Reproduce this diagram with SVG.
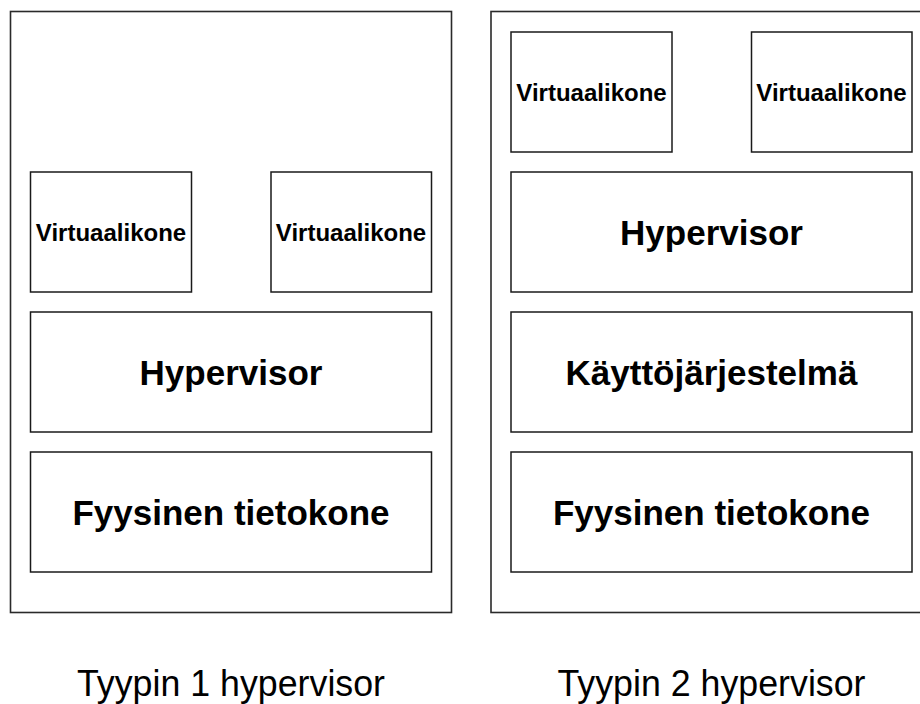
<svg xmlns="http://www.w3.org/2000/svg" width="920" height="704" viewBox="0 0 920 704">
<style>
.outer{fill:#fff;stroke:#2a2a2a;stroke-width:1.6}
.box{fill:#fff;stroke:#1a1a1a;stroke-width:1.5}
.vm{font-family:"Liberation Sans",Arial,sans-serif;font-weight:bold;font-size:24px;text-anchor:middle;fill:#000}
.big{font-family:"Liberation Sans",Arial,sans-serif;font-weight:bold;font-size:35px;text-anchor:middle;fill:#000}
.cap{font-family:"Liberation Sans",Arial,sans-serif;font-size:37px;text-anchor:middle;fill:#000}
</style>
<rect width="920" height="704" fill="#fff"/>
<g id="type1">
<rect class="outer" x="10.5" y="11.5" width="441" height="601"/>
<g id="t1-vm1"><rect class="box" x="30.5" y="172" width="161" height="120"/><text class="vm" x="111" y="240.5">Virtuaalikone</text></g>
<g id="t1-vm2"><rect class="box" x="271" y="172" width="160.5" height="120"/><text class="vm" x="351" y="240.5">Virtuaalikone</text></g>
<g id="t1-hyp"><rect class="box" x="30.5" y="312" width="401" height="120"/><text class="big" x="231" y="385">Hypervisor</text></g>
<g id="t1-hw"><rect class="box" x="30.5" y="452" width="401" height="120"/><text class="big" x="231" y="525">Fyysinen tietokone</text></g>
<text id="cap1" class="cap" x="231" y="696" textLength="308" lengthAdjust="spacingAndGlyphs">Tyypin 1 hypervisor</text>
</g>
<g id="type2">
<rect class="outer" x="491" y="11.5" width="441" height="601"/>
<g id="t2-vm1"><rect class="box" x="511" y="32" width="161" height="120"/><text class="vm" x="591.5" y="100.5">Virtuaalikone</text></g>
<g id="t2-vm2"><rect class="box" x="751.5" y="32" width="160.5" height="120"/><text class="vm" x="831.5" y="100.5">Virtuaalikone</text></g>
<g id="t2-hyp"><rect class="box" x="511" y="172" width="401" height="120"/><text class="big" x="711.5" y="245">Hypervisor</text></g>
<g id="t2-os"><rect class="box" x="511" y="312" width="401" height="120"/><text class="big" x="711.5" y="385">Käyttöjärjestelmä</text></g>
<g id="t2-hw"><rect class="box" x="511" y="452" width="401" height="120"/><text class="big" x="711.5" y="525">Fyysinen tietokone</text></g>
<text id="cap2" class="cap" x="711.5" y="696" textLength="308" lengthAdjust="spacingAndGlyphs">Tyypin 2 hypervisor</text>
</g>
<g id="connectors"/>
</svg>
